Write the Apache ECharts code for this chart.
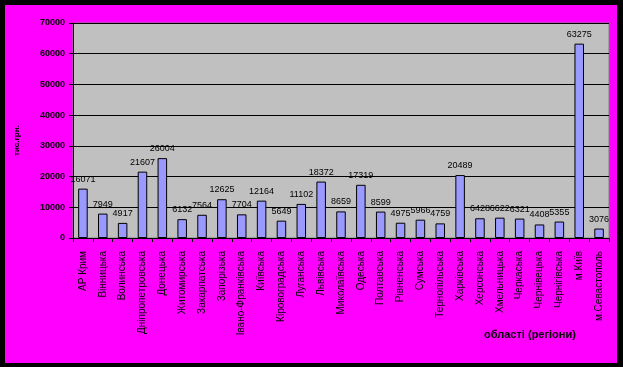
<!DOCTYPE html>
<html>
<head>
<meta charset="utf-8">
<script src="https://cdn.jsdelivr.net/npm/echarts@6/dist/echarts.min.js"></script>
<style>
html,body{margin:0;padding:0;background:#000;}
#c{width:623px;height:367px;}
</style>
</head>
<body>
<div id="c"></div>
<script>
const categories = ["АР Крим","Вінницька","Волинська","Дніпропетровська","Донецька","Житомирська","Закарпатська","Запорізька","Івано-Франківська","Київська","Кіровоградська","Луганська","Львівська","Миколаївська","Одеська","Полтавська","Рівненська","Сумська","Тернопільська","Харківська","Херсонська","Хмельницька","Черкаська","Чернівецька","Чернігівська","м.Київ","м.Севастополь"];
const values = [16071,7949,4917,21607,26004,6132,7564,12625,7704,12164,5649,11102,18372,8659,17319,8599,4975,5966,4759,20489,6428,6622,6321,4408,5355,63275,3076];
const yMin = 0, yMax = 70000, yStep = 10000;
const xTitle = "області (регіони)";
const yTitle = "тис.грн.";

const chart = echarts.init(document.getElementById('c'), null, {renderer:'canvas'});
const font = "Liberation Sans, Arial, sans-serif";
chart.setOption({
  backgroundColor: '#000000',
  animation: false,
  graphic: [
    {type:'rect', shape:{x:5,y:5,width:612,height:358}, style:{fill:'#ff00ff'}, z:-10, silent:true},
    {type:'text', left:484, top:329, style:{text:xTitle, font:'bold 11px '+font, fill:'#000'}},
    {type:'text', x:13, y:156, rotation:Math.PI/2, style:{text:yTitle, font:'bold 8px '+font, fill:'#000'}}
  ],
  grid: {left:73, top:23, right:14, bottom:129, show:true, backgroundColor:'#c0c0c0', borderColor:'#808080', borderWidth:1},
  xAxis: {
    type:'category', data:categories,
    axisLine:{lineStyle:{color:'#000', width:1}},
    axisTick:{show:true, length:4, lineStyle:{color:'#000'}},
    axisLabel:{rotate:90, interval:0, fontSize:10, fontFamily:font, color:'#000', margin:13, verticalAlign:'middle'}
  },
  yAxis: {
    type:'value', min:yMin, max:yMax, interval:yStep,
    axisLine:{show:true, lineStyle:{color:'#000'}},
    axisTick:{show:true, inside:false, length:4, lineStyle:{color:'#000'}},
    axisLabel:{fontSize:9, fontWeight:'bold', fontFamily:font, color:'#000', margin:8, formatter: v => String(v)},
    splitLine:{show:true, lineStyle:{color:'#000', width:1}}
  },
  series: [{
    type:'bar', data:values, barCategoryGap:'52%',
    itemStyle:{color:'#9999ff', borderColor:'#000', borderWidth:1},
    label:{show:true, position:'top', distance:5, fontSize:9, fontFamily:font, color:'#000'}
  }]
});
</script>
</body>
</html>
